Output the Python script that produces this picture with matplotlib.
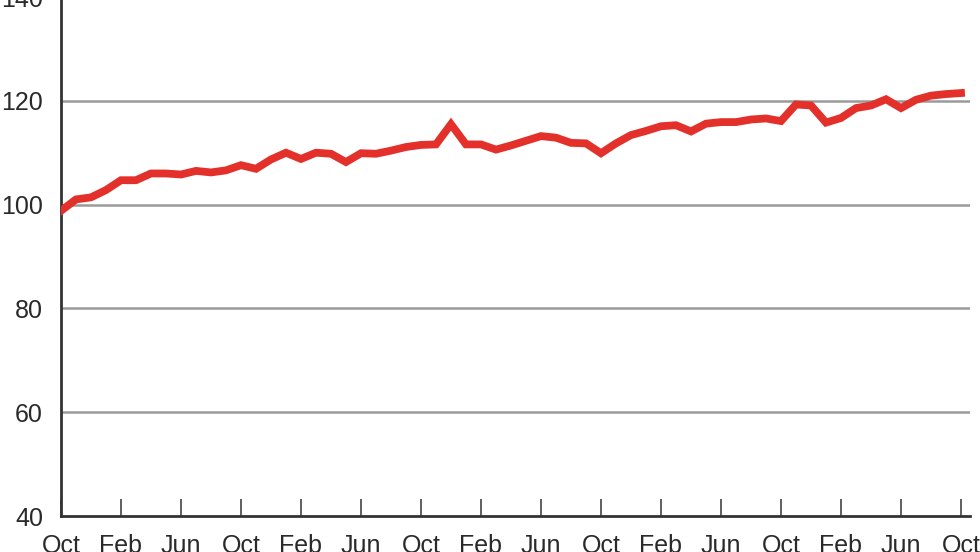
import matplotlib
matplotlib.use("Agg")
import matplotlib.pyplot as plt

# monthly index values, Oct (year 0) to Oct (year 5)
values = [
    98.8, 101.0, 101.4, 102.8, 104.7, 104.7, 106.0, 106.0, 105.8, 106.5,
    106.2, 106.6, 107.6, 106.9, 108.7, 110.0, 108.8, 110.0, 109.8, 108.2,
    109.9, 109.8, 110.4, 111.1, 111.5, 111.6, 115.5, 111.6, 111.6, 110.6,
    111.4, 112.3, 113.2, 112.9, 111.9, 111.8, 109.9, 111.8, 113.4, 114.2,
    115.1, 115.3, 114.1, 115.6, 115.9, 115.9, 116.4, 116.6, 116.1, 119.3,
    119.1, 115.8, 116.7, 118.6, 119.1, 120.3, 118.6, 120.2, 121.0, 121.3,
    121.5,
]
month_labels = ["Oct", "Feb", "Jun"] * 5 + ["Oct"]
y_ticks = [40, 60, 80, 100, 120, 140]

months = list(range(len(values)))
label_pos = list(range(0, len(values), 4))

fig = plt.figure(figsize=(9.8, 5.52), dpi=100)
ax = fig.add_axes([0.0622, 0.0652, 0.9276, 0.9402])

ax.set_ylim(40, 140)
ax.set_xlim(0, 60.6)

for y in y_ticks[1:]:
    ax.axhline(y, color="#9a9a9a", linewidth=1.8, zorder=1)

ax.plot(months, values, color="#e3302a", linewidth=5.6,
        solid_joinstyle="miter", zorder=3)

ax.set_yticks(y_ticks)
ax.set_yticklabels([str(v) for v in y_ticks])
ax.set_xticks(label_pos)
ax.set_xticklabels(month_labels)

ax.tick_params(axis="y", length=0, pad=13, labelsize=18, labelcolor="#2a2a2a")
ax.tick_params(axis="x", direction="in", length=12, width=1.2, color="#444444",
               pad=13, labelsize=18, labelcolor="#2a2a2a")
for lab in ax.get_xticklabels() + ax.get_yticklabels():
    lab.set_fontfamily("Liberation Sans")

for side in ["top", "right"]:
    ax.spines[side].set_visible(False)
for side in ["left", "bottom"]:
    ax.spines[side].set_color("#333333")
    ax.spines[side].set_linewidth(2)

fig.savefig("out.png", dpi=100)
